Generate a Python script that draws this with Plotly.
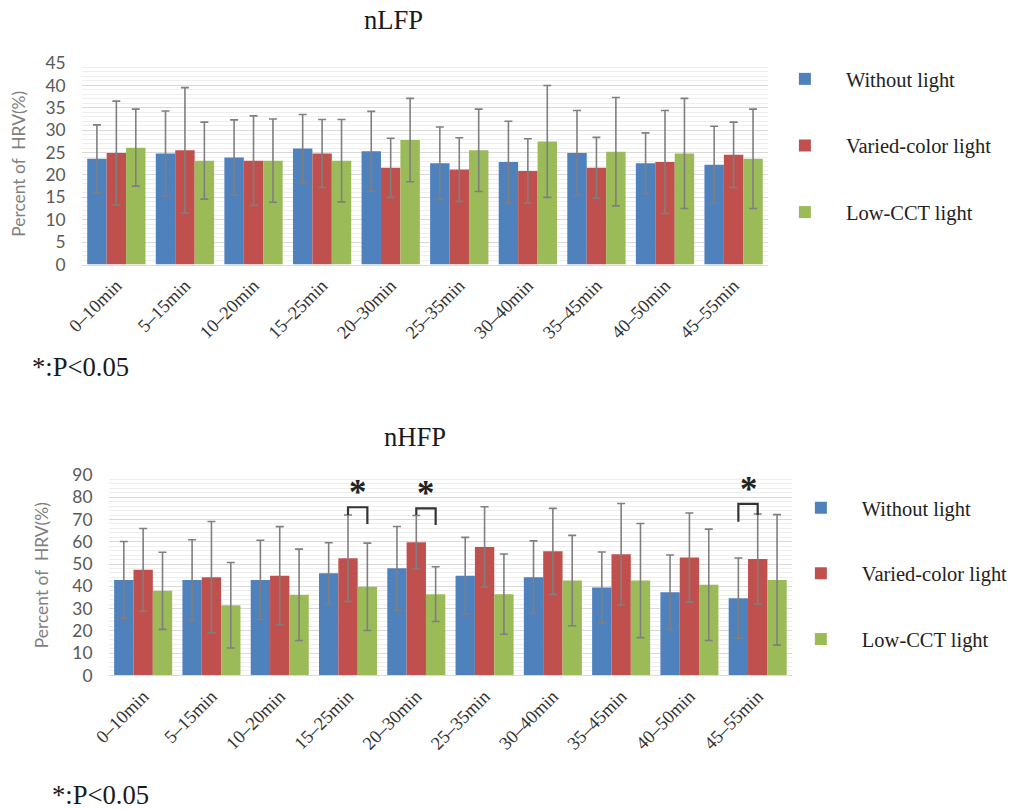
import plotly.graph_objects as go

# The rendered page shows the figure inside an 8px body margin at ~0.977 scale;
# layout positions below are given in target-picture pixels and converted.
S, M = 0.977, 8
W, H = 1013, 822

categories = ["0–10min", "5–15min", "10–20min", "15–25min", "20–30min",
              "25–35min", "30–40min", "35–45min", "40–50min", "45–55min"]
series_names = ["Without light", "Varied-color light", "Low-CCT light"]
colors = ["#4F81BD", "#C0504D", "#9BBB59"]

# nLFP (top)
lf_without = [23.6, 24.8, 23.9, 25.9, 25.3, 22.6, 22.9, 24.9, 22.6, 22.3]
lf_without_sd = [7.6, 9.5, 8.4, 7.6, 8.9, 8.1, 9.1, 9.5, 6.8, 8.6]
lf_varied = [24.9, 25.5, 23.2, 24.8, 21.6, 21.2, 20.9, 21.6, 22.9, 24.5]
lf_varied_sd = [11.6, 14.0, 10.0, 7.6, 6.6, 7.1, 7.2, 6.8, 11.5, 7.3]
lf_low = [26.1, 23.2, 23.2, 23.2, 27.8, 25.5, 27.5, 25.2, 24.8, 23.6]
lf_low_sd = [8.6, 8.6, 9.3, 9.2, 9.3, 9.2, 12.5, 12.1, 12.3, 11.1]

# nHFP (bottom)
hf_without = [42.9, 42.9, 42.9, 45.9, 48.1, 44.8, 44.1, 39.5, 37.4, 34.7]
hf_without_sd = [17.2, 18.0, 17.8, 13.7, 18.8, 17.2, 16.3, 15.9, 16.7, 18.0]
hf_varied = [47.4, 44.1, 44.8, 52.6, 59.8, 57.7, 55.7, 54.4, 52.9, 52.3]
hf_varied_sd = [18.6, 25.0, 22.0, 19.4, 12.0, 18.0, 19.3, 22.8, 20.0, 20.2]
hf_low = [38.0, 31.5, 36.2, 39.8, 36.5, 36.5, 42.6, 42.6, 40.7, 42.9]
hf_low_sd = [17.3, 19.2, 20.5, 19.6, 12.3, 18.0, 20.3, 25.6, 25.0, 29.3]

# significance brackets: (group index, left series, right series, bracket top, left foot, right foot)
sig_top = [(3, 1, 2, 75.5, 72.0, 68.0), (4, 1, 2, 75.0, 72.0, 67.5), (9, 0, 1, 77.0, 69.0, 72.0)]

xs = list(range(len(categories)))


def px(x):
    return (x / S - M) / W


def py(y):
    return 1 - (y / S - M) / H


def sz(v):
    return v / S


fig = go.Figure()

top_data = [(lf_without, lf_without_sd), (lf_varied, lf_varied_sd), (lf_low, lf_low_sd)]
bot_data = [(hf_without, hf_without_sd), (hf_varied, hf_varied_sd), (hf_low, hf_low_sd)]

for i, (vals, sd) in enumerate(top_data):
    fig.add_trace(go.Bar(
        x=xs, y=vals, name=series_names[i], marker_color=colors[i], marker_line_width=0,
        error_y=dict(type="data", array=sd, color="#7f7f7f", thickness=1.6, width=4),
        xaxis="x", yaxis="y", legend="legend", legendgroup="t%d" % i))

for i, (vals, sd) in enumerate(bot_data):
    fig.add_trace(go.Bar(
        x=xs, y=vals, name=series_names[i], marker_color=colors[i], marker_line_width=0,
        error_y=dict(type="data", array=sd, color="#7f7f7f", thickness=1.6, width=4),
        xaxis="x2", yaxis="y2", legend="legend2", legendgroup="b%d" % i))

bar_w = 0.85 / 3
offsets = [-bar_w, 0, bar_w]
for g, a, b, top, lf, rf in sig_top:
    xl = g + offsets[a]
    xr = g + offsets[b]
    fig.add_shape(type="path", xref="x2", yref="y2",
                  path="M %f %f L %f %f L %f %f L %f %f" % (xl, lf, xl, top, xr, top, xr, rf),
                  line=dict(color="#333333", width=2.2))
    fig.add_annotation(x=(xl + xr) / 2, y=top, xref="x2", yref="y2", text="<b>*</b>",
                       showarrow=False, yanchor="bottom", yshift=-7,
                       font=dict(family="Liberation Serif", size=sz(34), color="#222222"))

serif = "Liberation Serif, Times New Roman, serif"
tick_font = dict(family="Lato", size=sz(17), color="#595959")
xtick_font = dict(family=serif, size=sz(18), color="#333333")
grid = "#d9d9d9"
minor_grid = "#eeeeee"

common_x = dict(tickmode="array", tickvals=xs, ticktext=categories, tickangle=-45,
                tickfont=xtick_font, showgrid=False, showline=True, linecolor="#d9d9d9",
                linewidth=1, ticks="", range=[-0.5, 9.5], ticklabelstandoff=2)

fig.update_layout(
    width=W, height=H, margin=dict(l=0, r=0, t=0, b=0),
    paper_bgcolor="white", plot_bgcolor="white",
    barmode="group", bargap=0.15, bargroupgap=0,
    xaxis=dict(domain=[px(74), px(761)], anchor="y", **common_x),
    yaxis=dict(domain=[py(262), py(60)], anchor="x", range=[0, 45], dtick=5,
               tickfont=tick_font, gridcolor=grid, gridwidth=1, zeroline=False,
               ticks="outside", ticklen=12, tickcolor="rgba(0,0,0,0)",
               minor=dict(dtick=1, showgrid=True, gridcolor=minor_grid),
               title=dict(text="Percent of  HRV(%)", font=dict(family="Lato", size=sz(17), color="#7f7f7f"),
                          standoff=15)),
    xaxis2=dict(domain=[px(101), px(785)], anchor="y2", **common_x),
    yaxis2=dict(domain=[py(674), py(473)], anchor="x2", range=[0, 90], dtick=10,
                tickfont=tick_font, gridcolor=grid, gridwidth=1, zeroline=False,
                ticks="outside", ticklen=12, tickcolor="rgba(0,0,0,0)",
                minor=dict(dtick=2, showgrid=True, gridcolor=minor_grid),
                title=dict(text="Percent of  HRV(%)", font=dict(family="Lato", size=sz(17), color="#7f7f7f"),
                           standoff=19)),
    legend=dict(x=px(757), y=py(56), xanchor="left", yanchor="top",
                font=dict(family=serif, size=sz(20), color="#222222"),
                tracegroupgap=37, itemwidth=72, bgcolor="rgba(0,0,0,0)"),
    legend2=dict(x=px(773), y=py(486), xanchor="left", yanchor="top",
                 font=dict(family=serif, size=sz(20), color="#222222"),
                 tracegroupgap=36, itemwidth=72, bgcolor="rgba(0,0,0,0)"),
    showlegend=True,
)

texts = [
    ("nLFP", 386, 17, 26),
    ("nHFP", 408, 435, 26),
    ("*:P<0.05", 72, 365, 26),
    ("*:P<0.05", 92, 794, 26),
]
for t, x, y, s in texts:
    fig.add_annotation(x=px(x), y=py(y), xref="paper", yref="paper", text=t, showarrow=False,
                       xanchor="center", yanchor="middle",
                       font=dict(family=serif, size=sz(s), color="#1a1a1a"))

fig.write_html("out.html")
